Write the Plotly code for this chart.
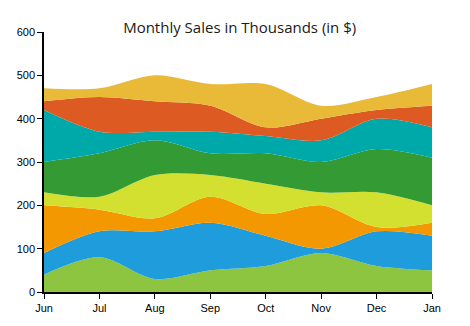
import plotly.graph_objects as go

months = ["Jun", "Jul", "Aug", "Sep", "Oct", "Nov", "Dec", "Jan"]
s1 = [40, 80, 30, 50, 60, 90, 60, 50]
s2 = [50, 60, 110, 110, 70, 10, 80, 80]
s3 = [110, 50, 30, 60, 50, 100, 10, 30]
s4 = [30, 30, 100, 50, 70, 30, 80, 40]
s5 = [70, 100, 80, 50, 70, 70, 100, 110]
s6 = [120, 50, 20, 50, 40, 50, 70, 70]
s7 = [20, 80, 70, 60, 20, 50, 20, 50]
s8 = [30, 20, 60, 50, 100, 30, 30, 50]
series = [s1, s2, s3, s4, s5, s6, s7, s8]
colors = ["#8DC541", "#1E9CDC", "#F39800", "#D4E030", "#349A34", "#00A9A9", "#DD5B22", "#E8BA37"]

x = list(range(len(months)))
fig = go.Figure()
for i, (vals, c) in enumerate(zip(series, colors)):
    fig.add_trace(go.Scatter(
        x=x, y=vals, stackgroup="one", mode="lines",
        line=dict(width=0, shape="spline", smoothing=0.9, color=c),
        fillcolor=c, name=f"S{i+1}", hoverinfo="skip"))

fig.update_layout(
    width=470, height=326,
    margin=dict(l=44, r=38, t=32, b=30),
    paper_bgcolor="white", plot_bgcolor="white",
    showlegend=False,
    title=dict(text="Monthly Sales in Thousands (in $)", x=0.51, xanchor="center",
               y=0.915, yanchor="middle",
               font=dict(family="Open Sans", size=15, color="#1a1a1a")),
    font=dict(family="Liberation Sans", size=11, color="black"),
)
fig.update_xaxes(range=[0, 7], tickvals=x, ticktext=months, showgrid=False,
                 showline=True, linecolor="black", linewidth=1.5,
                 ticks="outside", ticklen=5, tickcolor="black", zeroline=False)
fig.update_yaxes(range=[0, 600], dtick=100, showgrid=False,
                 showline=True, linecolor="black", linewidth=1.5,
                 ticks="outside", ticklen=5, tickcolor="black", zeroline=False)
fig.write_html("out.html")
